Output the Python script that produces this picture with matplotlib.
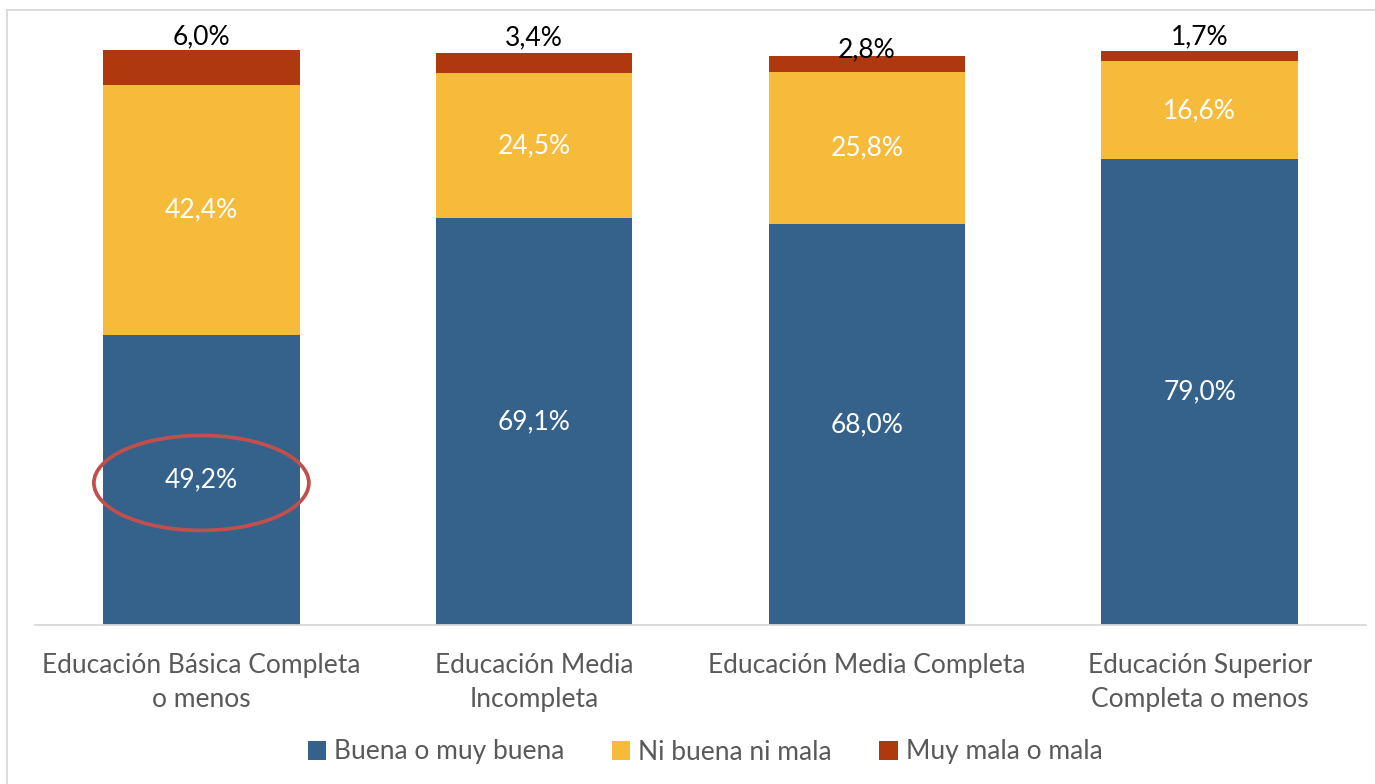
import matplotlib
matplotlib.use("Agg")
import matplotlib.pyplot as plt
from matplotlib.patches import Ellipse
from matplotlib.lines import Line2D
import numpy as np

categories = ["Educación Básica Completa\no menos", "Educación Media\nIncompleta",
              "Educación Media Completa", "Educación Superior\nCompleta o menos"]
buena = [49.2, 69.1, 68.0, 79.0]
ni = [42.4, 24.5, 25.8, 16.6]
mala = [6.0, 3.4, 2.8, 1.7]
series_names = ["Buena o muy buena", "Ni buena ni mala", "Muy mala o mala"]
colors = ["#34628A", "#F6BB3B", "#B0380E"]
top_label_offsets_px = [5, 8, -2, 7]

plt.rcParams['font.family'] = ['Lato', 'DejaVu Sans']

fig = plt.figure(figsize=(13.75, 7.84), dpi=100)
ax = fig.add_axes([35/1375, 1-625/784, (1366-35)/1375, (625-35.5)/784])

x = np.arange(len(categories))
w = 0.59
b1 = ax.bar(x, buena, w, color=colors[0], label=series_names[0], zorder=2)
b2 = ax.bar(x, ni, w, bottom=buena, color=colors[1], label=series_names[1], zorder=2)
bottom3 = np.array(buena) + np.array(ni)
b3 = ax.bar(x, mala, w, bottom=bottom3, color=colors[2], label=series_names[2], zorder=2)

fs = 19
def fmt(v):
    return f"{v:.1f}%".replace(".", ",")

for i in range(len(x)):
    ax.text(x[i], buena[i]/2, fmt(buena[i]), ha='center', va='center', color='white', fontsize=fs, zorder=4)
    ax.text(x[i], buena[i] + ni[i]/2, fmt(ni[i]), ha='center', va='center', color='white', fontsize=fs, zorder=4)
    ax.annotate(fmt(mala[i]), (x[i], bottom3[i] + mala[i]), xytext=(0, top_label_offsets_px[i]*0.72),
                textcoords='offset points', ha='center', va='baseline', color='black', fontsize=fs, zorder=4)

ell = Ellipse((0, 24.1), 0.646, 16.1, fill=False, edgecolor='#C0504D', linewidth=2.7, zorder=5)
ax.add_patch(ell)

ax.set_xlim(-0.5, 3.5)
ax.set_ylim(0, 100)
ax.set_yticks([])
ax.set_xticks(x)
ax.set_xticklabels(categories, fontsize=fs, color='#595959', linespacing=1.47)
ax.tick_params(axis='x', length=0, pad=20)
for s in ['top', 'right', 'left']:
    ax.spines[s].set_visible(False)
ax.spines['bottom'].set_color('#D9D9D9')
ax.spines['bottom'].set_linewidth(1.3)

leg = fig.legend(handles=[b1, b2, b3], labels=series_names, loc='center', bbox_to_anchor=(705/1375, 1-752/784),
                 ncol=3, frameon=False, fontsize=fs, handlelength=0.7, handleheight=0.7,
                 handletextpad=0.3, columnspacing=1.8, labelcolor='#595959')

# outer border (left and top visible)
fig.add_artist(Line2D([7/1375, 7/1375], [0, 1-10/784], transform=fig.transFigure, color='#D9D9D9', lw=1.3))
fig.add_artist(Line2D([7/1375, 1], [1-10/784, 1-10/784], transform=fig.transFigure, color='#D9D9D9', lw=1.3))

fig.savefig("out.png", dpi=100)
